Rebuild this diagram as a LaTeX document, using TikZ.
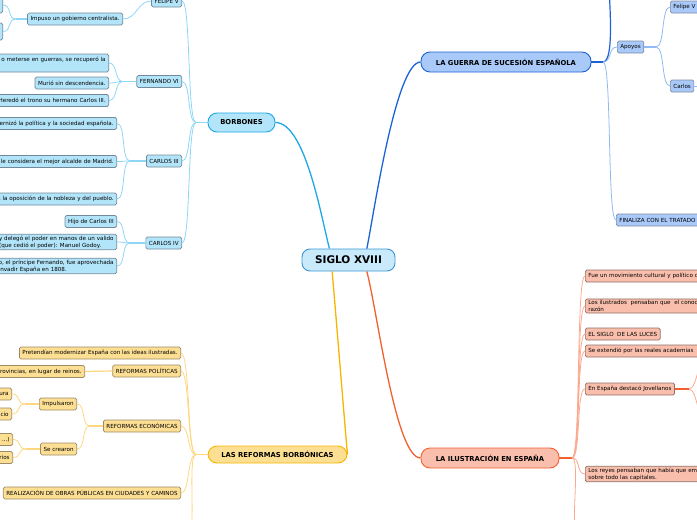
\documentclass[tikz,border=0pt]{standalone}
\usepackage{fontspec}
\setmainfont{DejaVu Sans}
\usepackage{xcolor}
\usepackage{tikz}

\definecolor{rootfill}{HTML}{C8EAFB}
\definecolor{rootedge}{HTML}{3C95D4}
\definecolor{borbfill}{HTML}{B3E5FA}
\definecolor{borbedge}{HTML}{73889A}
\definecolor{borbline}{HTML}{8ED6F6}
\definecolor{borbmain}{HTML}{1FA7E6}
\definecolor{guerfill}{HTML}{A9C9F9}
\definecolor{gueredge}{HTML}{7D8CA6}
\definecolor{guerline}{HTML}{92B9F2}
\definecolor{guermain}{HTML}{1B63D5}
\definecolor{refofill}{HTML}{FDDF94}
\definecolor{refoedge}{HTML}{9C8C66}
\definecolor{refoline}{HTML}{FDD77F}
\definecolor{refomain}{HTML}{F7B500}
\definecolor{ilusfill}{HTML}{F9BFAC}
\definecolor{ilusedge}{HTML}{8F6F66}
\definecolor{ilusline}{HTML}{FBAA90}
\definecolor{ilusmain}{HTML}{F2602F}

\begin{document}
\begin{tikzpicture}[x=1pt, y=-1pt,
    rootbox/.style={draw=rootedge, fill=rootfill, line width=0.9pt, rounded corners=8pt,
      font=\fontsize{10.5}{12}\selectfont\bfseries, minimum width=93, minimum height=22},
    topicbox/.style={line width=0.9pt, rounded corners=9pt, inner xsep=8pt,
      font=\fontsize{6.8}{8}\selectfont\bfseries, minimum height=19},
    leafbox/.style={line width=0.7pt, rounded corners=1.5pt, inner xsep=3pt, inner ysep=1.5pt,
      font=\fontsize{5.6}{6.8}\selectfont, minimum height=12, align=left},
    bleaf/.style={leafbox, fill=borbfill, draw=borbedge},
    gleaf/.style={leafbox, fill=guerfill, draw=gueredge},
    rleaf/.style={leafbox, fill=refofill, draw=refoedge},
    ileaf/.style={leafbox, fill=ilusfill, draw=ilusedge},
    leftcut/.style={anchor=east, text width=200, align=right},
    rightcut/.style={anchor=west, text width=150},
    toleft/.style={out=180, in=0, distance=9pt},
    toright/.style={out=0, in=180, distance=9pt}]

    \useasboundingbox (0,0) rectangle (697,520);
    \clip (0,0) rectangle (697,520);

    % centre and the four main topics
    \node[rootbox] (siglo) at (348.5,260) {SIGLO XVIII};
    \node[topicbox, fill=borbfill, draw=borbmain, minimum width=67] (borb) at (241.5,122.5) {BORBONES};
    \node[topicbox, fill=guerfill, draw=guermain, minimum width=170, minimum height=20] (guer) at (506,62) {LA GUERRA DE SUCESIÓN ESPAÑOLA};
    \node[topicbox, fill=refofill, draw=refomain, minimum width=139, minimum height=17] (refo) at (277.5,454.5) {LAS REFORMAS BORBÓNICAS};
    \node[topicbox, fill=ilusfill, draw=ilusmain, minimum width=138, minimum height=20] (ilus) at (490,458) {LA ILUSTRACIÓN EN ESPAÑA};

    \draw[borbmain, line width=1.3pt] (siglo.149) to[out=105, in=0, out distance=30pt, in distance=30pt] (borb.east);
    \draw[guermain, line width=1.3pt] (siglo.32) to[out=78, in=180, out distance=30pt, in distance=25pt] (guer.west);
    \draw[refomain, line width=1.3pt] (siglo.215) to[out=-85, in=95, out distance=40pt, in distance=40pt] (refo.east);
    \draw[ilusmain, line width=1.3pt] (siglo.328) to[out=-75, in=180, out distance=40pt, in distance=25pt] (ilus.west);

    % BORBONES
    \coordinate (jb) at (196,122.5);
    \draw[borbline, line width=1.4pt] (borb.west) -- (jb);
    \node[bleaf, anchor=east] (felipe) at (182,1) {FELIPE V};
    \node[bleaf, anchor=east] (fernando) at (182,81.5) {FERNANDO VI};
    \node[bleaf, anchor=east] (carlos3) at (182,161) {CARLOS III};
    \node[bleaf, anchor=east] (carlos4) at (182,243) {CARLOS IV};
    \draw[borbline, line width=0.8pt, toleft] (jb) to (felipe.east);
    \draw[borbline, line width=0.8pt, toleft] (jb) to (fernando.east);
    \draw[borbline, line width=0.8pt, toleft] (jb) to (carlos3.east);
    \draw[borbline, line width=0.8pt, toleft] (jb) to (carlos4.east);

    \node[bleaf, anchor=east] (impuso) at (123,19) {Impuso un gobierno centralista.};
    \draw[borbline, line width=0.8pt, toleft, distance=14pt] (felipe.west) to (impuso.east);
    \coordinate (ji) at (16,19);
    \node[bleaf, anchor=east, minimum width=20, minimum height=16] (imp1) at (3,5) {};
    \node[bleaf, anchor=east, minimum width=20, minimum height=17] (imp2) at (3,31.5) {};
    \draw[borbline, line width=1.2pt] (impuso.west) -- (ji);
    \draw[borbline, line width=0.8pt, toleft] (ji) to (imp1.east);
    \draw[borbline, line width=0.8pt, toleft] (ji) to (imp2.east);

    \coordinate (jf) at (123,81.5);
    \node[bleaf, leftcut, minimum height=18] (fer1) at (109,63) {o meterse en guerras, se recuperó la\\ \mbox{}};
    \node[bleaf, anchor=east] (fer2) at (109,83) {Murió sin descendencia.};
    \node[bleaf, leftcut] (fer3) at (109,100.5) {Heredó el trono su hermano Carlos III.};
    \draw[borbline, line width=1.2pt] (fernando.west) -- (jf);
    \draw[borbline, line width=0.8pt, toleft] (jf) to (fer1.east);
    \draw[borbline, line width=0.8pt, toleft] (jf) to (fer2.east);
    \draw[borbline, line width=0.8pt, toleft] (jf) to (fer3.east);

    \coordinate (jc3) at (130,161);
    \node[bleaf, leftcut] (c3a) at (117,123.5) {dernizó la política y la sociedad española.};
    \node[bleaf, leftcut] (c3b) at (117,161.5) {e le considera el mejor alcalde de Madrid.};
    \node[bleaf, leftcut] (c3c) at (117,199) {n la oposición de la nobleza y del pueblo.};
    \draw[borbline, line width=1.2pt] (carlos3.west) -- (jc3);
    \draw[borbline, line width=0.8pt, toleft] (jc3) to (c3a.east);
    \draw[borbline, line width=0.8pt, toleft] (jc3) to (c3b.east);
    \draw[borbline, line width=0.8pt, toleft] (jc3) to (c3c.east);

    \coordinate (jc4) at (130,243);
    \node[bleaf, anchor=east] (c4a) at (117,221.5) {Hijo de Carlos III};
    \node[bleaf, anchor=east] (c4b) at (117,242) {y delegó el poder en manos de un valido\\(que cedió el poder): Manuel Godoy.};
    \node[bleaf, anchor=east] (c4c) at (117,266) {o, el príncipe Fernando, fue aprovechada\\invadir España en 1808.};
    \draw[borbline, line width=1.2pt] (carlos4.west) -- (jc4);
    \draw[borbline, line width=0.8pt, toleft] (jc4) to (c4a.east);
    \draw[borbline, line width=0.8pt, toleft] (jc4) to (c4b.east);
    \draw[borbline, line width=0.8pt, toleft] (jc4) to (c4c.east);

    % LA GUERRA DE SUCESION
    \coordinate (jg) at (603,62);
    \coordinate (gup) at (609,-15);
    \draw[guermain, line width=1.4pt] (guer.east) -- (jg);
    \draw[guermain, line width=1.2pt] (jg) to[out=0, in=-90, distance=12pt] (gup);
    \node[gleaf, anchor=west] (apoyos) at (617,47) {Apoyos};
    \node[gleaf, rightcut] (fin) at (616,220) {FINALIZA CON EL TRATADO};
    \draw[guerline, line width=0.8pt, toright] (jg) to (apoyos.west);
    \draw[guerline, line width=0.8pt, toright] (jg) to (fin.west);

    \coordinate (ja) at (656,47);
    \node[gleaf, rightcut] (gfel) at (670,7) {Felipe V};
    \node[gleaf, anchor=west] (gcar) at (670,86) {Carlos};
    \coordinate (gcarr) at (712,86);
    \draw[guerline, line width=1.6pt] (apoyos.east) -- (ja);
    \draw[guerline, line width=0.8pt, toright] (ja) to (gfel.west);
    \draw[guerline, line width=0.8pt, toright] (ja) to (gcar.west);
    \draw[guerline, line width=0.8pt] (gcar.east) -- (gcarr);

    % LAS REFORMAS BORBONICAS
    \coordinate (jr) at (196,454.5);
    \coordinate (rdown) at (188,535);
    \draw[refoline, line width=1.4pt] (refo.west) -- (jr);
    \node[rleaf, anchor=east] (pret) at (181,353) {Pretendían modernizar España con las ideas ilustradas.};
    \node[rleaf, anchor=east] (rpol) at (181,371) {REFORMAS POLÍTICAS};
    \node[rleaf, anchor=east] (reco) at (181,426) {REFORMAS ECONÓMICAS};
    \node[rleaf, anchor=east] (obras) at (181,493) {REALIZACIÓN DE OBRAS PÚBLICAS EN CIUDADES Y CAMINOS};
    \draw[refoline, line width=0.8pt, toleft] (jr) to (pret.east);
    \draw[refoline, line width=0.8pt, toleft] (jr) to (rpol.east);
    \draw[refoline, line width=0.8pt, toleft] (jr) to (reco.east);
    \draw[refoline, line width=0.8pt, toleft] (jr) to (obras.east);
    \draw[refoline, line width=0.8pt, toleft] (jr) to (rdown);

    \node[rleaf, leftcut] (rp1) at (85,371.5) {provincias, en lugar de reinos.};
    \draw[refoline, line width=1.2pt] (rpol.west) -- (rp1.east);

    \coordinate (jre) at (90,426);
    \node[rleaf, anchor=east] (impul) at (77,404) {Impulsaron};
    \node[rleaf, anchor=east] (secre) at (77,449) {Se crearon};
    \draw[refoline, line width=1.2pt] (reco.west) -- (jre);
    \draw[refoline, line width=0.8pt, toleft] (jre) to (impul.east);
    \draw[refoline, line width=0.8pt, toleft] (jre) to (secre.east);

    \coordinate (jim) at (25,404);
    \node[rleaf, leftcut] (ie1) at (12,394) {ura};
    \node[rleaf, leftcut] (ie2) at (12,414) {cio};
    \draw[refoline, line width=1.2pt] (impul.west) -- (jim);
    \draw[refoline, line width=0.8pt, toleft] (jim) to (ie1.east);
    \draw[refoline, line width=0.8pt, toleft] (jim) to (ie2.east);

    \coordinate (jse) at (26,449);
    \node[rleaf, leftcut] (sc1) at (13,439.5) {...)};
    \node[rleaf, leftcut] (sc2) at (13,457.5) {rios};
    \draw[refoline, line width=1.2pt] (secre.west) -- (jse);
    \draw[refoline, line width=0.8pt, toleft] (jse) to (sc1.east);
    \draw[refoline, line width=0.8pt, toleft] (jse) to (sc2.east);

    % LA ILUSTRACION EN ESPANA
    \coordinate (jl) at (572,458);
    \coordinate (ldown) at (578,535);
    \draw[ilusmain, line width=1.4pt] (ilus.east) -- (jl);
    \node[ileaf, rightcut] (il1) at (585,276) {Fue un movimiento cultural y político o};
    \node[ileaf, rightcut] (il2) at (585,306) {Los ilustrados\ \ pensaban que\ \ el conoc\\razón};
    \node[ileaf, anchor=west] (il3) at (585,334) {EL SIGLO\ \ DE LAS LUCES};
    \node[ileaf, rightcut] (il4) at (585,351) {Se extendió por las reales academias};
    \node[ileaf, anchor=west] (il5) at (585,389) {En España destacó Jovellanos};
    \node[ileaf, rightcut] (il6) at (585,474) {Los reyes pensaban que había que em\\sobre todo las capitales.};
    \draw[ilusline, line width=0.8pt, toright] (jl) to (il1.west);
    \draw[ilusline, line width=0.8pt, toright] (jl) to (il2.west);
    \draw[ilusline, line width=0.8pt, toright] (jl) to (il3.west);
    \draw[ilusline, line width=0.8pt, toright] (jl) to (il4.west);
    \draw[ilusline, line width=0.8pt, toright] (jl) to (il5.west);
    \draw[ilusline, line width=0.8pt, toright] (jl) to (il6.west);
    \draw[ilusline, line width=0.8pt, toright] (jl) to (ldown);

    \coordinate (jj) at (689,389);
    \coordinate (jv1) at (708,350);
    \coordinate (jv2) at (708,430);
    \draw[ilusmain, line width=1.2pt] (il5.east) -- (jj);
    \draw[ilusline, line width=0.8pt, toright] (jj) to (jv1);
    \draw[ilusline, line width=0.8pt, toright] (jj) to (jv2);
\end{tikzpicture}
\end{document}
